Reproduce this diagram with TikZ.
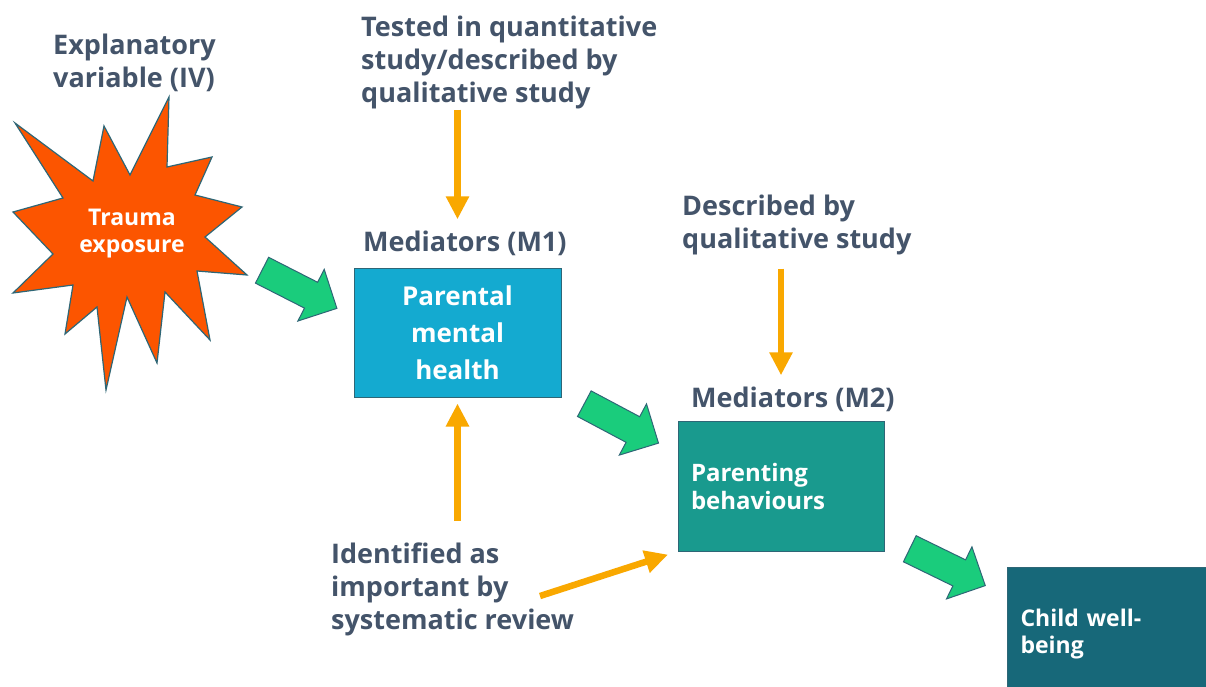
\documentclass[tikz,border=0pt]{standalone}
\usepackage{fontspec}
\setmainfont{Open Sans}
\usetikzlibrary{arrows.meta,shapes.arrows}
\definecolor{txt}{HTML}{44546A}
\definecolor{star}{HTML}{FC5500}
\definecolor{edge}{HTML}{2E6676}
\definecolor{mone}{HTML}{14AAD0}
\definecolor{mtwo}{HTML}{199A8E}
\definecolor{child}{HTML}{176879}
\definecolor{flow}{HTML}{1ACC7C}
\definecolor{feed}{HTML}{F9A800}
\begin{document}
\begin{tikzpicture}[x=1pt,y=-1pt,
  lab/.style={text=txt, font=\fontsize{27}{33}\selectfont\bfseries, align=left, anchor=base west, inner sep=0pt},
  box/.style={draw=edge, line width=1pt, text=white},
  feedarrow/.style={draw=feed, line width=6.5pt, -{Triangle[width=22pt,length=23pt]}},
  flowarrow/.style={shape=single arrow, fill=flow, draw=edge, line width=1pt, inner xsep=0pt, inner ysep=14pt,
    single arrow head extend=14.5pt, single arrow tip angle=90, minimum height=84pt}]
  \useasboundingbox (0,0) rectangle (1206,687);
  \fill[white] (0,0) rectangle (1206,687);

  % Explanatory variable (base = last line)
  \node[lab] (expl) at (53,88) {Explanatory\\variable (IV)};
  \filldraw[fill=star, draw=edge, line width=1.2pt]
    (169,97) -- (167,167) -- (212,157) -- (195,195) -- (242,207) -- (205,237)
    -- (247,275) -- (197,271) -- (210,340) -- (165,292) -- (157,363) -- (127,297)
    -- (106,390) -- (97,307) -- (65,334) -- (73,285) -- (13,293) -- (53,254)
    -- (13,212) -- (63,198) -- (15,123) -- (93,181) -- (104,126) -- (130,175) -- cycle;
  \node[text=white, font=\fontsize{23}{27}\selectfont\bfseries, align=center] (trauma) at (132,234) {Trauma\\exposure};

  % Mediators
  \node[lab] (tested) at (361,103) {Tested in quantitative\\study/described by\\qualitative study};
  \node[lab] (m1lab) at (363,251) {Mediators (M1)};
  \node[box, fill=mone, minimum width=207pt, minimum height=129pt, align=center,
    font=\fontsize{26}{37}\selectfont\bfseries] (m1) at (457.5,332.5) {Parental\\mental\\health};
  \node[lab] (descr) at (682,248) {Described by\\qualitative study};
  \node[lab] (m2lab) at (691,407) {Mediators (M2)};
  \node[box, fill=mtwo, minimum height=130pt, text width=180pt, inner xsep=13pt, align=left,
    font=\fontsize{24}{28}\selectfont\bfseries] (m2) at (781,486) {Parenting\\behaviours};
  \node[lab] (ident) at (331,629) {Identified as\\important by\\systematic review};

  % Outcome
  \node[box, fill=child, anchor=north west, minimum height=134pt, text width=200pt, inner xsep=13pt, align=left,
    font=\fontsize{23}{27}\selectfont\bfseries] (child) at (1007,567) {Child well-\\being};

  % Pathway arrows
  \node[flowarrow, rotate=-27] (fa) at (293,286) {};
  \node[flowarrow, rotate=-28] (fb) at (615,420) {};
  \node[flowarrow, rotate=-26] (fc) at (941,564) {};

  % Evidence arrows
  \draw[feedarrow, shorten >=11pt] (m1.north |- tested.south) -- (m1.north |- m1lab.north);
  \draw[feedarrow, shorten <=21pt, shorten >=6pt] (m1.south |- ident.north) -- (m1.south);
  \draw[feedarrow, shorten <=14pt, shorten >=11pt] (m2.north |- descr.south) -- (m2.north |- m2lab.north);
  \coordinate (idtail) at (540,596);
  \draw[feedarrow, shorten >=10pt] (idtail) -- (m2.south west);
\end{tikzpicture}
\end{document}
